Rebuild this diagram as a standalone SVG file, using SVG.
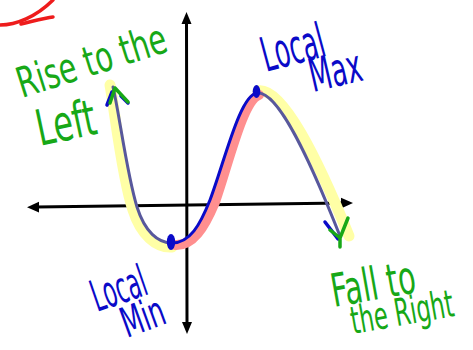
<svg xmlns="http://www.w3.org/2000/svg" width="473" height="350" viewBox="0 0 473 350">
  <style>
    .axis { stroke: #000; stroke-width: 3; fill: none; stroke-linecap: round; }
    .head { fill: #000; }
    .hl-y { stroke: #ffffa6; stroke-width: 11; fill: none; stroke-linecap: round; }
    .hl-r { stroke: #ff8f8f; stroke-width: 10; fill: none; stroke-linecap: round; }
    .cv-g { stroke: #58589c; stroke-width: 3; fill: none; stroke-linecap: round; }
    .cv-b { stroke: #0a0ac8; stroke-width: 3; fill: none; stroke-linecap: round; }
    .pen-g { stroke: #17a817; stroke-width: 3.5; fill: none; stroke-linecap: round; stroke-linejoin: round; }
    .pen-b { stroke: #0a0ac8; stroke-width: 3.5; fill: none; stroke-linecap: round; stroke-linejoin: round; }
    .red { stroke: #ee1c1c; stroke-width: 3.5; fill: none; stroke-linecap: round; }
    .lbl { font-family: "Liberation Sans Narrow", "DejaVu Sans Condensed", "Liberation Sans", sans-serif; }
    .g { fill: #17a817; }
    .b { fill: #0a0ac8; }
  </style>

  <g id="red-scribble">
    <path class="red" d="M0,25 C16,25 36,17 53,0"/>
    <path class="red" d="M21,24 C34,21 45,18 53,17"/>
  </g>

  <g id="axes">
    <path class="axis" d="M36,207 L344,203"/>
    <path class="head" d="M27,207.2 L39,201.8 L39,212.6 Z"/>
    <path class="head" d="M353,203 L341,197.8 L341,208.6 Z"/>
    <path class="axis" d="M186.5,22 L187,325"/>
    <path class="head" d="M186.5,12 L181.5,24 L191.5,24 Z"/>
    <path class="head" d="M187,334 L182,322 L192,322 Z"/>
  </g>

  <g id="curve">
    <path class="hl-y" d="M110,85 C115,112 122,178 133,210 C141,235 156,248 172,247"/>
    <path class="hl-y" d="M258,91 C282,86 318,160 349,236"/>
    <path class="hl-r" d="M175,245 C193,246 204,228 215,202 C229,162 243,100 259,95"/>
    <path class="cv-g" d="M113,87 C119,112 127,175 137,207 C145,232 158,243 172,243"/>
    <path class="cv-b" d="M172,243 C190,243 200,225 210,200 C225,160 240,95 257,93"/>
    <path class="cv-g" d="M257,93 C278,90 310,160 340,236"/>
    <path class="pen-b" d="M107,105 L112,92"/>
    <path class="pen-b" d="M121,96 L128,103"/>
    <path class="pen-g" d="M110,103 L115,88 L128,102"/>
    <path class="pen-b" d="M325,222 L338,239"/>
    <path class="pen-g" d="M330,230 L340,238 L348,218 M340,238 L340,247"/>
    <ellipse class="b" cx="171" cy="242" rx="4.2" ry="8"/>
    <ellipse class="b" cx="256.5" cy="91.5" rx="3.8" ry="6.5"/>
  </g>

  <g id="label-rise">
    <text class="lbl g" font-size="42" textLength="155" lengthAdjust="spacingAndGlyphs" transform="translate(22,98) rotate(-17.6)">Rise to the</text>
    <text class="lbl g" font-size="50" textLength="60" lengthAdjust="spacingAndGlyphs" transform="translate(40,146) rotate(-12)">Left</text>
  </g>

  <g id="label-max">
    <text class="lbl b" font-size="48" textLength="64" lengthAdjust="spacingAndGlyphs" transform="translate(266,72) rotate(-15)">Local</text>
    <text class="lbl b" font-size="46" textLength="53" lengthAdjust="spacingAndGlyphs" transform="translate(313,92) rotate(-13)">Max</text>
  </g>

  <g id="label-min">
    <text class="lbl b" font-size="44" textLength="56" lengthAdjust="spacingAndGlyphs" transform="translate(97,312) rotate(-19)">Local</text>
    <text class="lbl b" font-size="42" textLength="44" lengthAdjust="spacingAndGlyphs" transform="translate(127,338) rotate(-20)">Min</text>
  </g>

  <g id="label-fall">
    <text class="lbl g" font-size="46" textLength="85" lengthAdjust="spacingAndGlyphs" transform="translate(334,307) rotate(-10)">Fall to</text>
    <text class="lbl g" font-size="38" x="104" text-anchor="end" textLength="104" lengthAdjust="spacingAndGlyphs" transform="translate(353,334) rotate(-10)">the Right</text>
  </g>
</svg>
